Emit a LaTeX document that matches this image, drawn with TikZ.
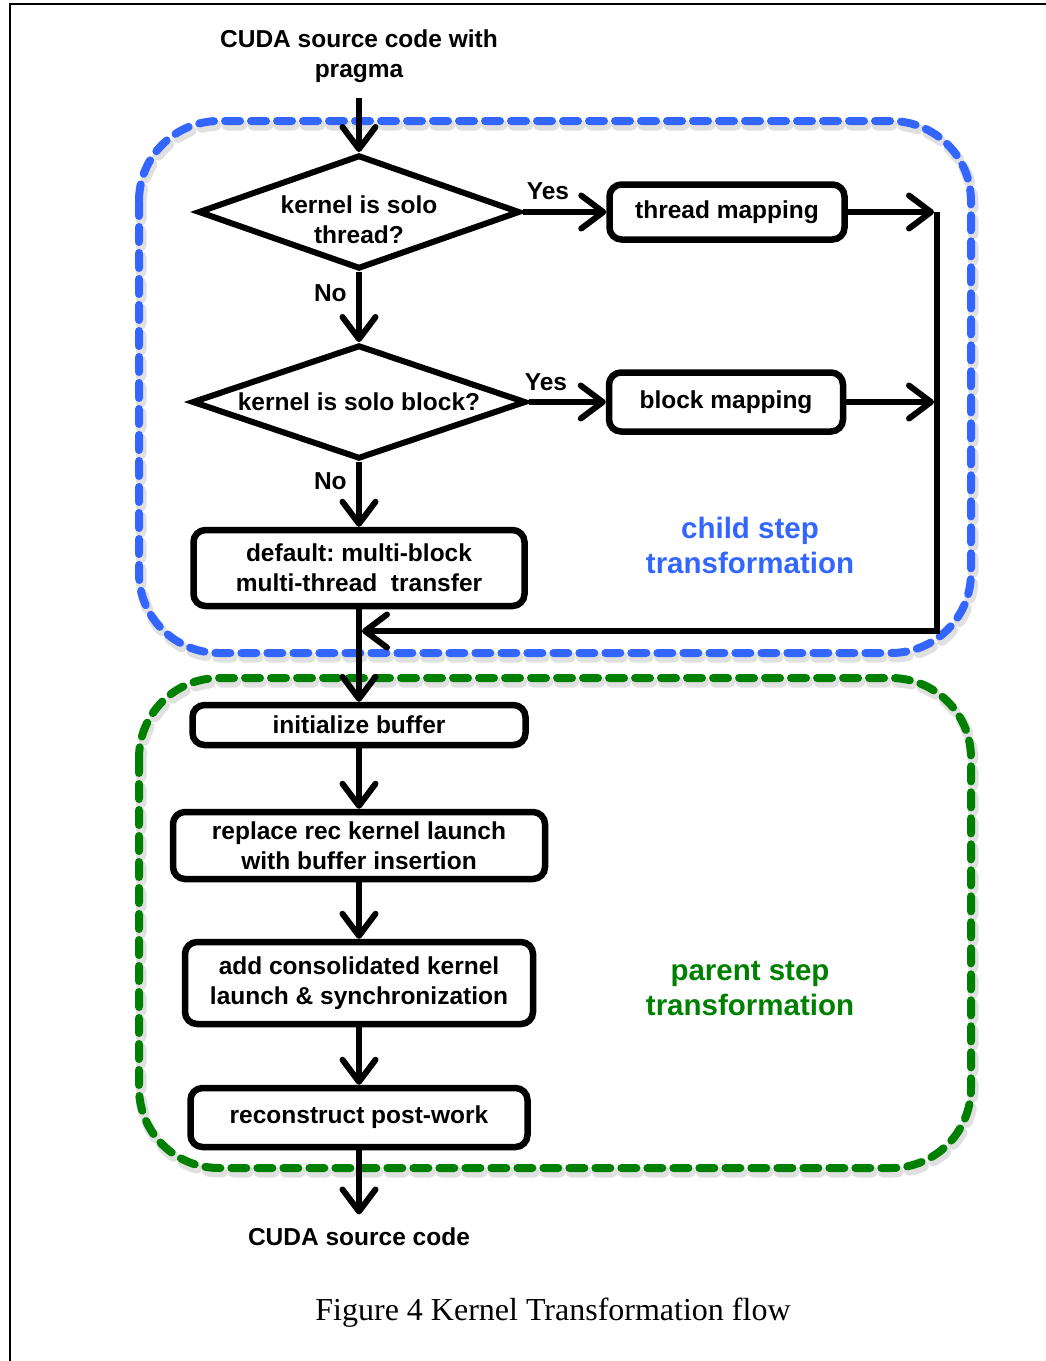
\documentclass[tikz,border=0pt]{standalone}
\usepackage{fontspec}
\setmainfont{Liberation Sans}
\newfontfamily\capfont{Liberation Serif}
\frenchspacing
\usetikzlibrary{shapes.geometric,arrows.meta}
\definecolor{childblue}{RGB}{51,102,255}
\definecolor{parentgreen}{RGB}{0,128,0}

\begin{document}
\begin{tikzpicture}[x=1pt, y=-1pt,
    every node/.style={font=\fontsize{24.5}{30}\selectfont\bfseries, align=center},
    box/.style={draw, rounded corners=12pt, line width=6.5pt, inner sep=0pt},
    decision/.style={draw, diamond, shape aspect=2.9, line width=6pt, inner sep=0pt},
    arr/.style={line width=6pt, -{Straight Barb[length=22pt, width=33pt, round]}},
    group/.style={line width=8pt, line cap=round, dash pattern=on 15pt off 11pt, rounded corners=80pt},
    grouplabel/.style={font=\fontsize{29.5}{35}\selectfont\bfseries}]

\useasboundingbox (0,0) rectangle (1046,1361);
\draw[line width=1.5pt] (10,1361) -- (10,4) -- (1046,4);

% dashed step frames
\draw[group, black, opacity=0.12, line width=11pt, shift={(2,4)}] (139,121) rectangle (971,653);
\draw[group, childblue] (139,121) rectangle (971,653);
\draw[group, black, opacity=0.12, line width=11pt, shift={(2,4)}] (139,678) rectangle (971,1168);
\draw[group, parentgreen] (139,678) rectangle (971,1168);

\node (src) at (359,56) {CUDA source code with\\pragma};
\node[decision, minimum width=322pt, minimum height=114pt,
    label={[yshift=-8pt]center:{kernel is solo\\thread?}}] (solothread) [below of=src, node distance=156pt] {};
\node[decision, minimum width=334pt, minimum height=114pt] (soloblock) [below of=solothread, node distance=190pt] {kernel is solo block?};
\node[box, minimum width=235pt, minimum height=55pt] (threadmap) [right of=solothread, node distance=368pt] {thread mapping};
\node[box, minimum width=234pt, minimum height=59pt] (blockmap) [right of=soloblock, node distance=367pt] {block mapping};
\node[box, minimum width=331pt, minimum height=76pt] (default) [below of=soloblock, node distance=166pt] {default: multi-block\\multi-thread\ \ transfer};
\node[box, minimum width=333pt, minimum height=40pt] (initbuf) [below of=default, node distance=157pt] {initialize buffer};
\node[box, minimum width=372pt, minimum height=67pt] (replace) [below of=initbuf, node distance=120.5pt] {replace rec kernel launch\\with buffer insertion};
\node[box, minimum width=348pt, minimum height=82pt] (consol) [below of=replace, node distance=137.5pt] {add consolidated kernel\\launch \& synchronization};
\node[box, minimum width=337pt, minimum height=59pt] (recon) [below of=consol, node distance=134.5pt] {reconstruct post-work};
\node (sink) [below of=recon, node distance=119.5pt] {CUDA source code};

\node[grouplabel, text=childblue] (childlabel) at (750,545) {child step\\transformation};
\node[grouplabel, text=parentgreen] (parentlabel) at (750,989) {parent step\\transformation};
\node[font=\capfont\fontsize{32}{38}\selectfont] (caption) at (553,1313) {Figure 4 Kernel Transformation flow};

\coordinate (bustop) at (937,212);
\coordinate (busmid) at (937,402);
\coordinate (busbot) at (937,631);
\coordinate (merge) at (362,631);

\path
(src) edge [arr, shorten <=12pt] (solothread)
(solothread) edge [arr] node[above=6pt, pos=0.3] {Yes} (threadmap)
(solothread) edge [arr] node[left=6pt, pos=0.3] {No} (soloblock)
(soloblock) edge [arr] node[above=5pt, pos=0.22] {Yes} (blockmap)
(soloblock) edge [arr] node[left=6pt, pos=0.3] {No} (default)
(threadmap) edge [arr, shorten >=3pt] (bustop)
(blockmap) edge [arr, shorten >=3pt] (busmid)
(default) edge [arr] (initbuf)
(initbuf) edge [arr] (replace)
(replace) edge [arr] (consol)
(consol) edge [arr] (recon)
(recon) edge [arr, shorten >=10pt] (sink);

\draw[arr, line join=miter] (bustop) -- (busbot) -- (merge);

\end{tikzpicture}
\end{document}
